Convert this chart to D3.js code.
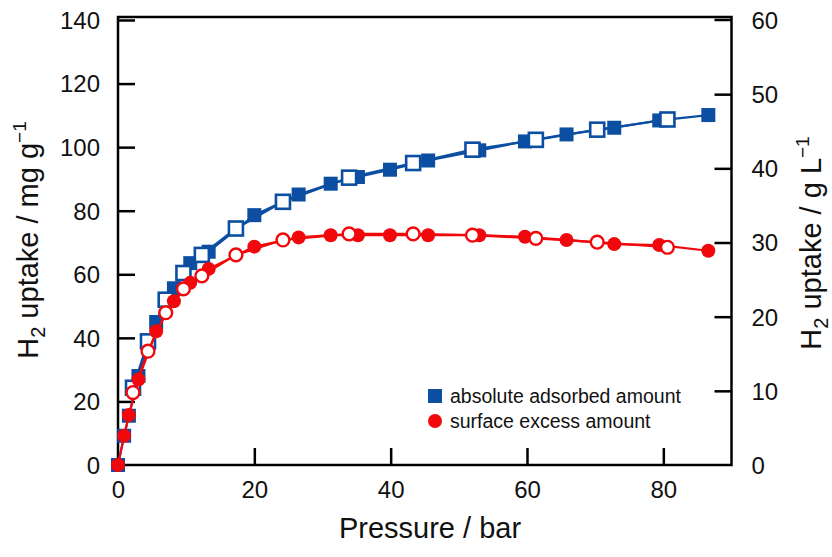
<!DOCTYPE html>
<html>
<head>
<meta charset="utf-8">
<script src="https://cdn.jsdelivr.net/npm/d3@7"></script>
<style>
  html, body { margin: 0; padding: 0; background: #fff; }
  svg { display: block; font-family: "Liberation Sans", Arial, sans-serif; }
</style>
</head>
<body>
<svg id="chart" width="832" height="557"></svg>
<script>
// ---- data ----
const adsPressure = [0, 0.9, 1.6, 3.0, 5.6, 8.2, 10.6, 13.3, 20.0, 26.5, 31.2, 35.2, 39.9, 45.5, 53.0, 59.7, 65.8, 72.8, 79.4, 86.6];
const absoluteAds = [0, 9.2, 15.5, 28.0, 45.0, 55.6, 63.5, 67.1, 78.6, 85.1, 88.5, 90.6, 92.9, 95.8, 99.0, 101.8, 104.0, 106.1, 108.4, 110.1];
const excessAds   = [0, 9.2, 15.7, 26.9, 42.1, 51.5, 57.3, 61.7, 68.7, 71.6, 72.3, 72.3, 72.3, 72.3, 72.3, 71.8, 70.8, 69.5, 69.2, 67.4];

const desPressure = [2.2, 4.4, 7.0, 9.6, 12.3, 17.3, 24.2, 33.9, 43.3, 52.0, 61.3, 70.3, 80.6];
const absoluteDes = [24.3, 38.9, 52.0, 60.4, 66.1, 74.4, 82.8, 90.4, 95.0, 99.2, 102.3, 105.5, 108.7];
const excessDes   = [22.8, 35.8, 47.9, 55.4, 59.5, 66.1, 70.8, 72.7, 72.7, 72.3, 71.3, 70.1, 68.5];

const xTicks = [0, 20, 40, 60, 80];
const yLeftTicks = [0, 20, 40, 60, 80, 100, 120, 140];
const yRightTicks = [0, 10, 20, 30, 40, 50, 60];
const legendLabels = ["absolute adsorbed amount", "surface excess amount"];

// ---- layout ----
const L = 118, R = 731.5, T = 17, B = 465;
const blue = "#0b4ea2", red = "#f0080c";

const svg = d3.select("#chart");
const x = d3.scaleLinear().domain([0, 90]).range([L, R]);
const y = d3.scaleLinear().domain([0, 140]).range([B, 20]);
const y2 = d3.scaleLinear().domain([0, 60]).range([B, 20]);

const tickLen = 17;
const fs = 24;

// axes
const gx = svg.append("g").attr("transform", `translate(0,${B})`)
  .call(d3.axisBottom(x).tickValues(xTicks).tickSizeInner(-tickLen).tickSizeOuter(0));
const gy = svg.append("g").attr("transform", `translate(${L},0)`)
  .call(d3.axisLeft(y).tickValues(yLeftTicks).tickSizeInner(-tickLen).tickSizeOuter(0));
const gy2 = svg.append("g").attr("transform", `translate(${R},0)`)
  .call(d3.axisRight(y2).tickValues(yRightTicks).tickSizeInner(-tickLen).tickSizeOuter(0));

[gx, gy, gy2].forEach(g => {
  g.select(".domain").remove();
  g.selectAll(".tick line").attr("stroke", "#000").attr("stroke-width", 2.5);
  g.selectAll(".tick text").attr("font-size", fs).attr("fill", "#111")
    .attr("font-family", "Liberation Sans, Arial, sans-serif");
});
gx.selectAll(".tick text").attr("y", 16).attr("dy", "0.71em");
gy.selectAll(".tick text").attr("x", -18).attr("dy", "0.35em");
gy2.selectAll(".tick text").attr("x", 20).attr("dy", "0.35em");

gy.selectAll(".tick line").filter(d => d === 0).remove();
gy2.selectAll(".tick line").filter(d => d === 0 || d === 60).remove();
gx.selectAll(".tick line").filter(d => d === 0).remove();

// frame
svg.append("rect").attr("x", L).attr("y", T).attr("width", R - L).attr("height", B - T)
  .attr("fill", "none").attr("stroke", "#000").attr("stroke-width", 2.5);
svg.append("line").attr("x1", R - tickLen).attr("x2", R).attr("y1", y2(60)).attr("y2", y2(60))
  .attr("stroke", "#000").attr("stroke-width", 2.5);

// axis titles
const titleFs = 29;
svg.append("text").attr("x", 430).attr("y", 538).attr("text-anchor", "middle")
  .attr("font-size", titleFs).attr("fill", "#111").text("Pressure / bar");

const lt = svg.append("text").attr("transform", `translate(38,240) rotate(-90)`)
  .attr("text-anchor", "middle").attr("font-size", titleFs).attr("fill", "#111");
lt.append("tspan").text("H");
lt.append("tspan").attr("font-size", 20).attr("dy", 7).text("2");
lt.append("tspan").attr("dy", -7).text(" uptake / mg g");
lt.append("tspan").attr("font-size", 19).attr("dy", -12).text("\u22121");

const rt = svg.append("text").attr("transform", `translate(821,243) rotate(-90)`)
  .attr("text-anchor", "middle").attr("font-size", titleFs).attr("fill", "#111");
rt.append("tspan").text("H");
rt.append("tspan").attr("font-size", 20).attr("dy", 7).text("2");
rt.append("tspan").attr("dy", -7).text(" uptake / g L");
rt.append("tspan").attr("font-size", 19).attr("dy", -12).text("\u22121");

// series helpers
const line = d3.line().x(d => x(d[0])).y(d => y(d[1]));
const zip = (a, b) => a.map((v, i) => [v, b[i]]);

const absA = zip(adsPressure, absoluteAds), absD = zip(desPressure, absoluteDes);
const excA = zip(adsPressure, excessAds), excD = zip(desPressure, excessDes);

const sq = 14, rr = 7;

function drawSquares(data, filled) {
  svg.append("g").selectAll("rect").data(data).join("rect")
    .attr("x", d => x(d[0]) - sq / 2).attr("y", d => y(d[1]) - sq / 2)
    .attr("width", sq).attr("height", sq)
    .attr("fill", filled ? blue : "#fff")
    .attr("stroke", blue).attr("stroke-width", filled ? 0 : 2.6);
}
function drawCircles(data, filled) {
  svg.append("g").selectAll("circle").data(data).join("circle")
    .attr("cx", d => x(d[0])).attr("cy", d => y(d[1]))
    .attr("r", filled ? rr : rr - 0.6)
    .attr("fill", filled ? red : "#fff")
    .attr("stroke", red).attr("stroke-width", filled ? 0 : 2.4);
}

// blue series
svg.append("path").datum(absA).attr("d", line).attr("fill", "none").attr("stroke", blue).attr("stroke-width", 2.2);
svg.append("path").datum(absD).attr("d", line).attr("fill", "none").attr("stroke", blue).attr("stroke-width", 2.2);
drawSquares(absA, true);
drawSquares(absD, false);

// red series
svg.append("path").datum(excA).attr("d", line).attr("fill", "none").attr("stroke", red).attr("stroke-width", 2.2);
svg.append("path").datum(excD).attr("d", line).attr("fill", "none").attr("stroke", red).attr("stroke-width", 2.2);
drawCircles(excA, true);
drawCircles(excD, false);

// legend
const lg = svg.append("g");
lg.append("rect").attr("x", 428).attr("y", 389).attr("width", 14).attr("height", 14).attr("fill", blue);
lg.append("circle").attr("cx", 435).attr("cy", 421).attr("r", 7).attr("fill", red);
lg.append("text").attr("x", 450).attr("y", 403).attr("font-size", 19.5).attr("fill", "#111").text(legendLabels[0]);
lg.append("text").attr("x", 450).attr("y", 428).attr("font-size", 19.5).attr("fill", "#111").text(legendLabels[1]);
</script>
</body>
</html>
